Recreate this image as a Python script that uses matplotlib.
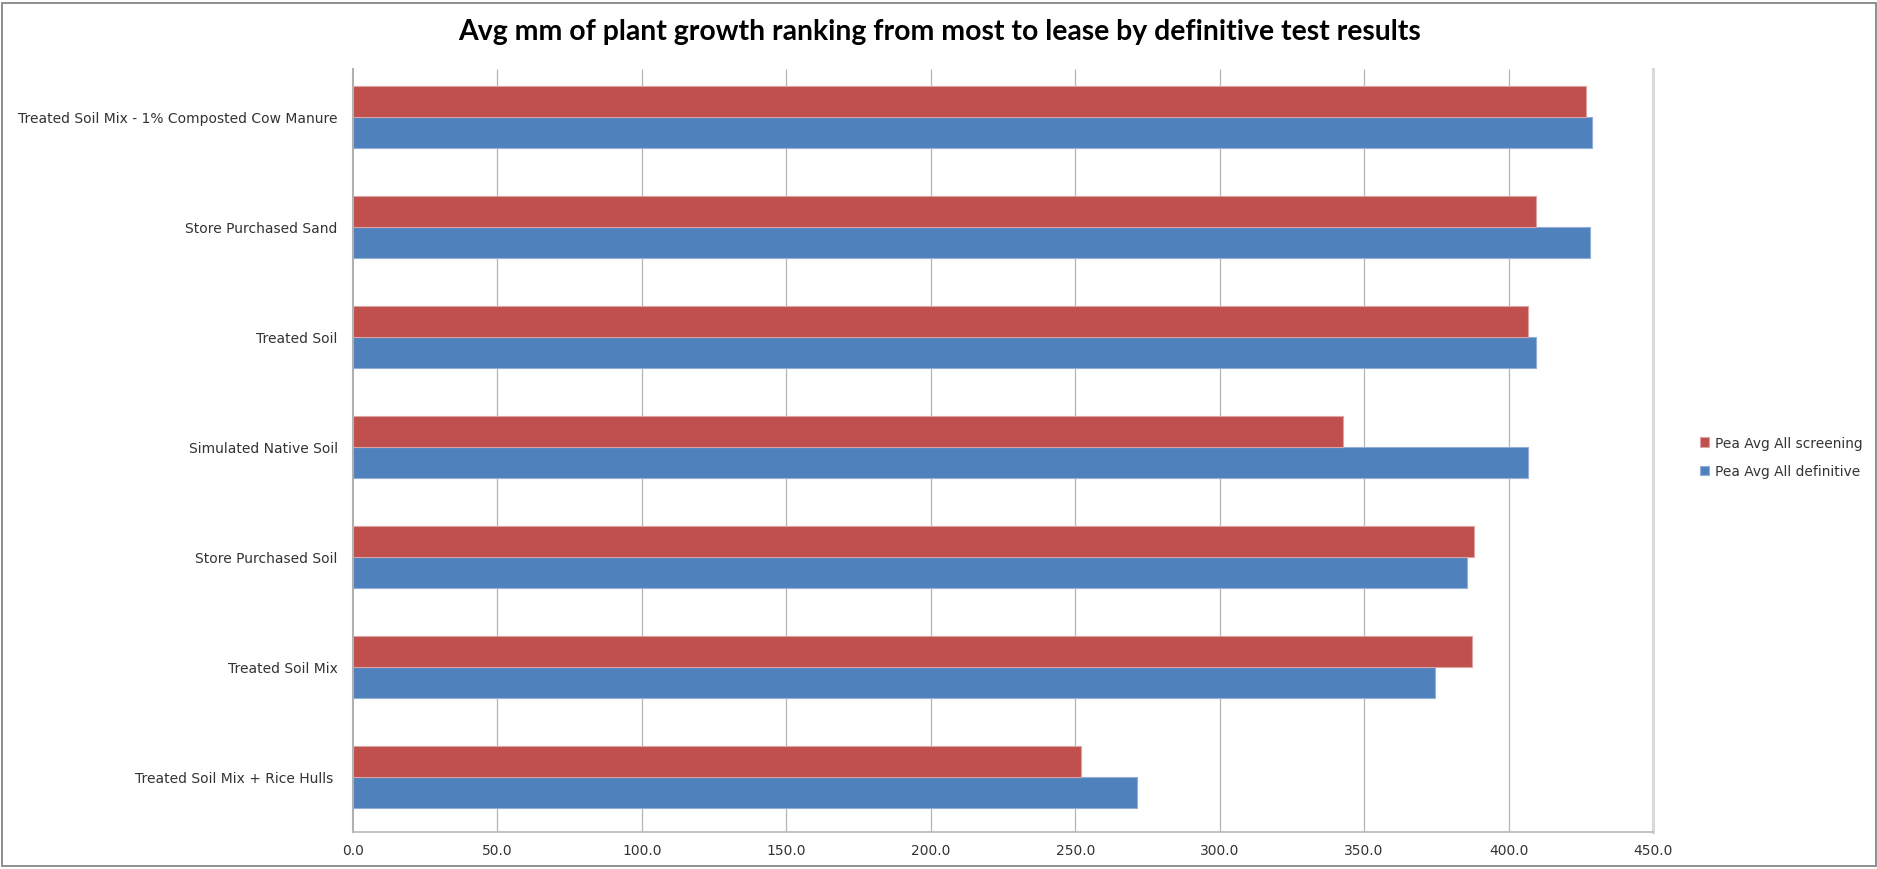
import matplotlib
matplotlib.use("Agg")
import matplotlib.pyplot as plt
from matplotlib.patches import Rectangle
from matplotlib.ticker import FormatStrFormatter
import numpy as np

# Soil treatments, listed from the bottom of the chart to the top
categories = [
    "Treated Soil Mix + Rice Hulls ",
    "Treated Soil Mix",
    "Store Purchased Soil",
    "Simulated Native Soil",
    "Treated Soil",
    "Store Purchased Sand",
    "Treated Soil Mix - 1% Composted Cow Manure",
]
# Average growth in mm
definitive = [271.4, 374.6, 385.6, 406.7, 409.4, 428.1, 429.0]
screening = [252.0, 387.4, 388.0, 342.7, 406.7, 409.4, 426.9]
series_names = ["Pea Avg All definitive", "Pea Avg All screening"]
x_ticks = [0, 50, 100, 150, 200, 250, 300, 350, 400, 450]
title = "Avg mm of plant growth ranking from most to lease by definitive test results"

BLUE = "#4F81BD"
RED = "#C0504D"
W, H = 1877, 870

fig = plt.figure(figsize=(W / 100, H / 100), dpi=100)
ax = fig.add_axes([353 / W, (H - 833) / H, 1300 / W, 770 / H])

y = np.arange(len(categories))
bh = 0.278
ax.barh(y - bh / 2, definitive, height=bh, color=BLUE, edgecolor="#93afd6",
        linewidth=0.8, zorder=3, label=series_names[0])
ax.barh(y + bh / 2, screening, height=bh, color=RED, edgecolor="#dba3a1",
        linewidth=0.8, zorder=3, label=series_names[1])

y_lo, y_hi = -0.5, len(categories) - 0.5
grid_top = y_hi - 0.065
ax.set_xlim(0, 450)
ax.set_ylim(y_lo, y_hi)
ax.set_xticks(x_ticks)
ax.xaxis.set_major_formatter(FormatStrFormatter("%.1f"))
ax.set_yticks(y)
ax.set_yticklabels(categories)

ax.tick_params(axis="y", length=0, pad=11, labelsize=10, labelcolor="#333333")
ax.tick_params(axis="x", length=0, pad=8, labelsize=10, labelcolor="#333333")
for lbl in ax.get_xticklabels() + ax.get_yticklabels():
    lbl.set_fontfamily("DejaVu Sans")

# vertical gridlines
ax.vlines(x_ticks[1:-1], y_lo, grid_top, color="#b4b4b4", linewidth=0.9, zorder=1)

ax.spines["top"].set_visible(False)
ax.spines["left"].set_color("#b0b0b0")
ax.spines["left"].set_linewidth(1.5)
ax.spines["left"].set_bounds(y_lo, grid_top)
ax.spines["bottom"].set_color("#b8b8b8")
ax.spines["bottom"].set_linewidth(1.2)
ax.spines["right"].set_color("#d9d9d9")
ax.spines["right"].set_linewidth(2.2)
ax.spines["right"].set_bounds(y_lo, grid_top)

fig.text(940 / W, 1 - 32 / H, title, ha="center", va="center",
         fontsize=20.4, fontweight="bold", family="Lato", color="#000000")

handles, labels = ax.get_legend_handles_labels()
leg = fig.legend(handles[::-1], labels[::-1], loc="center left",
                 bbox_to_anchor=(1700 / W, 1 - 458 / H), frameon=False,
                 fontsize=9.9, handlelength=0.65, handleheight=0.65,
                 handletextpad=0.45, labelspacing=1.04, borderpad=0,
                 borderaxespad=0)
for t in leg.get_texts():
    t.set_color("#333333")

# chart frame
fig.add_artist(Rectangle((2 / W, 3 / H), 1874 / W, 863 / H, transform=fig.transFigure,
                         fill=False, edgecolor="#868686", linewidth=1.3))

fig.savefig("out.png", dpi=100)
